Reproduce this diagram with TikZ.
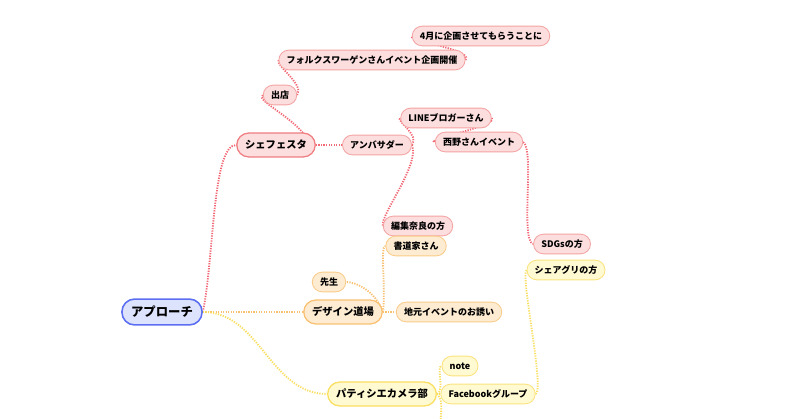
\documentclass[tikz,border=0pt]{standalone}
\usepackage{fontspec}
\setmainfont{Noto Sans CJK JP}
\definecolor{rootfill}{HTML}{DDE3FC}
\definecolor{rootline}{HTML}{5B6EF2}
\definecolor{redfill}{HTML}{FDDEDE}
\definecolor{redline}{HTML}{F4A3A3}
\definecolor{redmain}{HTML}{EE7C80}
\definecolor{rededge}{HTML}{F26874}
\definecolor{orgfill}{HTML}{FDECD2}
\definecolor{orgline}{HTML}{F9CB88}
\definecolor{orgedge}{HTML}{F8C070}
\definecolor{yelfill}{HTML}{FFFAD2}
\definecolor{yelline}{HTML}{FBE27E}
\definecolor{yeledge}{HTML}{F9DE60}
\pgfdeclarelayer{background}
\pgfsetlayers{background,main}
\tikzset{
  topic/.style={draw, rounded corners=7pt, minimum height=14pt, inner xsep=5.5pt,
    inner ysep=0pt, line width=0.6pt, font=\bfseries\fontsize{6.4}{7}\selectfont},
  maintopic/.style={topic, rounded corners=8.5pt, minimum height=17pt, inner xsep=6pt,
    line width=0.9pt, font=\bfseries\fontsize{7.3}{8}\selectfont},
  roottopic/.style={topic, rounded corners=9pt, minimum height=18.4pt, inner xsep=6.5pt,
    line width=1.1pt, fill=rootfill, draw=rootline, font=\bfseries\fontsize{8.8}{9}\selectfont},
  redtopic/.style={topic, fill=redfill, draw=redline},
  orgtopic/.style={topic, fill=orgfill, draw=orgline},
  yeltopic/.style={topic, fill=yelfill, draw=yelline},
  link/.style={line width=1.3pt, dash pattern=on 0.9pt off 0.9pt},
}
\begin{document}
\begin{tikzpicture}[x=0.025cm, y=-0.025cm]
  \useasboundingbox (0,0) rectangle (800,419);
  % 中心
  \node[roottopic] (root) at (162,312) {アプローチ};
  % シェフェスタの枝
  \node[maintopic, fill=redfill, draw=redmain] (chef) at (276,145) {シェフェスタ};
  \node[redtopic] (shop) at (280,95) {出店};
  \node[redtopic] (vw) at (372,60) {フォルクスワーゲンさんイベント企画開催};
  \node[redtopic] (april) at (481,36) {4月に企画させてもらうことに};
  \node[redtopic] (amb) at (377,145) {アンバサダー};
  \node[redtopic] (line) at (446,118) {LINEブロガーさん};
  \node[redtopic] (nishino) at (479,142) {西野さんイベント};
  \node[redtopic] (nara) at (418,226) {編集奈良の方};
  \node[redtopic] (sdgs) at (562,244) {SDGsの方};
  % デザイン道場の枝
  \node[maintopic, fill=orgfill, draw=orgedge] (design) at (343,312) {デザイン道場};
  \node[orgtopic] (sensei) at (329,282) {先生};
  \node[orgtopic] (shodo) at (416,246) {書道家さん};
  \node[orgtopic] (jimoto) at (449,312) {地元イベントのお誘い};
  % パティシエカメラ部の枝
  \node[maintopic, fill=yelfill, draw=yeledge] (pati) at (382,394) {パティシエカメラ部};
  \node[yeltopic] (note) at (460,366) {note};
  \node[yeltopic] (fb) at (488,394) {Facebookグループ};
  \node[yeltopic] (share) at (566,270) {シェアグリの方};
  \coordinate (more) at (440,430);
  % 線
  \begin{pgfonlayer}{background}
    \draw[link, rededge] (root.east) .. controls (214,260) and (212,145) .. (chef.west);
    \draw[link, orgedge] (root.east) -- (design.west);
    \draw[link, yeledge] (root.east) .. controls (260,312) and (270,394) .. (pati.west);
    \draw[link, rededge] (chef.east) -- (amb.west);
    \draw[link, rededge] ([xshift=-7pt,yshift=-3pt]chef.north east) .. controls (290,115) and (255,100) .. (shop.west);
    \draw[link, rededge] (shop.east) .. controls (305,85) and (275,65) .. (vw.west);
    \draw[link, rededge] (vw.east) .. controls (475,50) and (405,40) .. (april.west);
    \draw[link, rededge] (amb.east) .. controls (420,135) and (395,120) .. (line.west);
    \draw[link, rededge] (amb.east) .. controls (420,165) and (380,215) .. (nara.west);
    \draw[link, rededge] (line.east) .. controls (500,125) and (425,140) .. (nishino.west);
    \draw[link, rededge] (nishino.east) .. controls (535,150) and (520,240) .. (sdgs.west);
    \draw[link, orgedge] (design.east) .. controls (375,290) and (355,282) .. (sensei.east);
    \draw[link, orgedge] (design.east) .. controls (386,290) and (380,246) .. (shodo.west);
    \draw[link, orgedge] (design.east) -- (jimoto.west);
    \draw[link, yeledge] (pati.east) .. controls (445,390) and (436,366) .. (note.west);
    \draw[link, yeledge] (pati.east) -- (fb.west);
    \draw[link, yeledge] (pati.east) .. controls (442,400) .. (more);
    \draw[link, yeledge] (fb.east) .. controls (545,390) and (520,275) .. (share.west);
  \end{pgfonlayer}
\end{tikzpicture}
\end{document}
